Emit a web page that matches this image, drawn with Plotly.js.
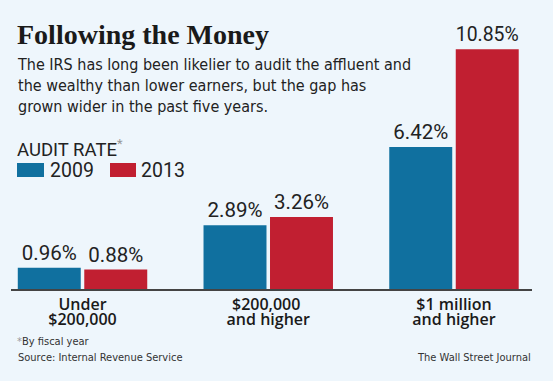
<!DOCTYPE html>
<html>
<head>
<meta charset="utf-8">
<script src="https://cdn.plot.ly/plotly-3.0.1.min.js"></script>
<style>
  html, body { margin: 0; padding: 0; background: #eef6fc; }
  #chart { width: 553px; height: 381px; }
</style>
</head>
<body>
<div id="chart"></div>
<script>
// ---- data ----
const categories = ["Under", "$200,000 ", "$1 million"];        // first line of each category label
const categoryLine2 = ["$200,000", "and higher", "and higher"]; // second line of each category label
const series2009 = [0.96, 2.89, 6.42];
const series2013 = [0.88, 3.26, 10.85];
const seriesNames = ["2009", "2013"];

// ---- styling ----
const W = 553, H = 381;
const px = v => v / W;
const py = v => 1 - v / H;
const BLUE = "#10709f";
const RED = "#c11f31";
const BG = "#eef6fc";
const INK = "#222222";
const NARROW = "'DejaVu Sans Condensed', 'Liberation Sans Narrow', Roboto, sans-serif";
const SANS = "Roboto, 'Liberation Sans', sans-serif";
const TICKFONT = { family: "'Open Sans', Roboto, sans-serif", size: 16, color: "#1a1a1a", weight: 600 };
const XRANGE = [-0.385, 2.42];
const XDOMAIN = [11 / W, 532 / W];

const traces = [
  {
    type: "bar", name: seriesNames[0], x: categories, y: series2009,
    marker: { color: BLUE },
    texttemplate: "%{y:.2f}%", textposition: "outside", cliponaxis: false,
    textfont: { family: SANS, size: 20.5, color: INK },
    hoverinfo: "none"
  },
  {
    type: "bar", name: seriesNames[1], x: categories, y: series2013,
    marker: { color: RED },
    texttemplate: "%{y:.2f}%", textposition: "outside", cliponaxis: false,
    textfont: { family: SANS, size: 20.5, color: INK },
    hoverinfo: "none"
  },
  // invisible helper trace so the second-line label axis (x2) is drawn
  {
    type: "scatter", mode: "none", x: categoryLine2.map((_, i) => i), y: series2009,
    xaxis: "x2", yaxis: "y", hoverinfo: "none", showlegend: false
  }
];

const annotations = [
  { text: "<b>Following the Money</b>", x: px(15), y: py(34), xanchor: "left", yanchor: "middle",
    font: { family: "'Liberation Serif', 'DejaVu Serif', serif", size: 28, color: "#1a1a1a" } },
  { text: "The IRS has long been likelier to audit the affluent and<br>the wealthy than lower earners, but the gap has<br>grown wider in the past five years.",
    x: px(15), y: py(85), xanchor: "left", yanchor: "middle", align: "left",
    font: { family: NARROW, size: 16, color: INK } },
  { text: "AUDIT RATE<span style='color:#999'><sup>*</sup></span>", x: px(15), y: py(148), xanchor: "left", yanchor: "middle",
    font: { family: SANS, size: 18.5, color: INK } },
  { text: seriesNames[0], x: px(48), y: py(170), xanchor: "left", yanchor: "middle",
    font: { family: SANS, size: 19.5, color: INK } },
  { text: seriesNames[1], x: px(139), y: py(170), xanchor: "left", yanchor: "middle",
    font: { family: SANS, size: 19.5, color: INK } },
  { text: "<span style='color:#999'>*</span>By fiscal year", x: px(15), y: py(341), xanchor: "left", yanchor: "middle",
    font: { family: NARROW, size: 11, color: "#333" } },
  { text: "Source: Internal Revenue Service", x: px(16), y: py(357), xanchor: "left", yanchor: "middle",
    font: { family: NARROW, size: 11, color: "#333" } },
  { text: "The Wall Street Journal", x: px(533), y: py(357), xanchor: "right", yanchor: "middle",
    font: { family: NARROW, size: 11, color: "#333" } }
].map(a => Object.assign({ xref: "paper", yref: "paper", showarrow: false }, a));

const shapes = [
  { type: "rect", xref: "paper", yref: "paper", x0: px(17), x1: px(44), y0: py(177), y1: py(163), fillcolor: BLUE, line: { width: 0 } },
  { type: "rect", xref: "paper", yref: "paper", x0: px(110), x1: px(136), y0: py(177), y1: py(163), fillcolor: RED, line: { width: 0 } }
];

const layout = {
  width: W, height: H,
  margin: { l: 0, r: 0, t: 0, b: 0, pad: 0 },
  paper_bgcolor: BG, plot_bgcolor: BG,
  showlegend: false,
  barmode: "group", bargap: 0.284, bargroupgap: 0.053,
  xaxis: {
    type: "category", domain: XDOMAIN, range: XRANGE,
    showline: true, linecolor: "#444", linewidth: 1.5, ticks: "", showgrid: false, zeroline: false,
    tickfont: TICKFONT, fixedrange: true
  },
  xaxis2: {
    overlaying: "x", anchor: "y", side: "bottom", type: "linear", domain: XDOMAIN, range: XRANGE,
    tickmode: "array", tickvals: [0, 1, 2], ticktext: categoryLine2,
    showline: false, ticks: "", showgrid: false, zeroline: false, ticklabelstandoff: 19,
    tickfont: TICKFONT, fixedrange: true
  },
  yaxis: {
    domain: [1 - 289 / H, 1 - 23.8 / H], range: [0, 12], visible: false, showgrid: false, zeroline: false, fixedrange: true
  },
  annotations: annotations,
  shapes: shapes,
  font: { family: SANS }
};

Plotly.newPlot("chart", traces, layout, { staticPlot: true, displayModeBar: false });
</script>
</body>
</html>
